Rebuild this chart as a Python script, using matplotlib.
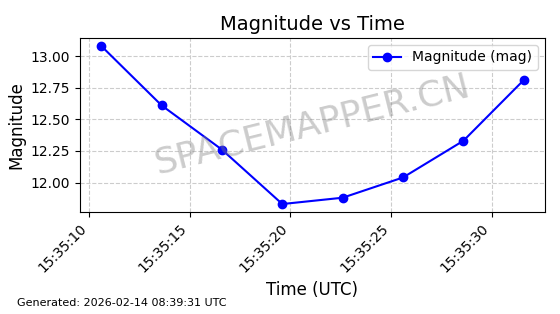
import matplotlib
matplotlib.use("Agg")
import matplotlib.pyplot as plt
import matplotlib.dates as mdates
from datetime import datetime, timedelta

# Observation data
start = datetime(2026, 2, 14, 15, 35, 10, 600000)
offsets = [0, 3, 6, 9, 12, 15, 18, 21]  # seconds
magnitudes = [13.08, 12.61, 12.26, 11.83, 11.88, 12.04, 12.33, 12.81]
times = [start + timedelta(seconds=s) for s in offsets]

fig = plt.figure(figsize=(5.6, 3.14), dpi=100)
ax = fig.add_axes([0.143, 0.325, 0.830, 0.554])

ax.plot(times, magnitudes, color="blue", marker="o", markersize=6,
        linewidth=1.5, label="Magnitude (mag)")

ax.set_title("Magnitude vs Time", fontsize=14)
ax.set_xlabel("Time (UTC)", fontsize=12)
ax.set_ylabel("Magnitude", fontsize=12)
ax.grid(True, linestyle="--", color="#cccccc", linewidth=0.8)

ax.xaxis.set_major_locator(mdates.SecondLocator(bysecond=range(0, 60, 5)))
ax.xaxis.set_major_formatter(mdates.DateFormatter("%H:%M:%S"))
plt.setp(ax.get_xticklabels(), rotation=45, ha="right")
ax.set_yticks([12.0, 12.25, 12.5, 12.75, 13.0])

ax.legend(loc="upper right", fontsize=10)

# Watermark
ax.text(0.5, 0.5, "SPACEMAPPER.CN", transform=ax.transAxes, fontsize=26,
        color="gray", alpha=0.4, rotation=14, ha="center", va="center")

fig.text(0.03, 0.025, "Generated: 2026-02-14 08:39:31 UTC", fontsize=8)

fig.savefig("out.png", dpi=100)
